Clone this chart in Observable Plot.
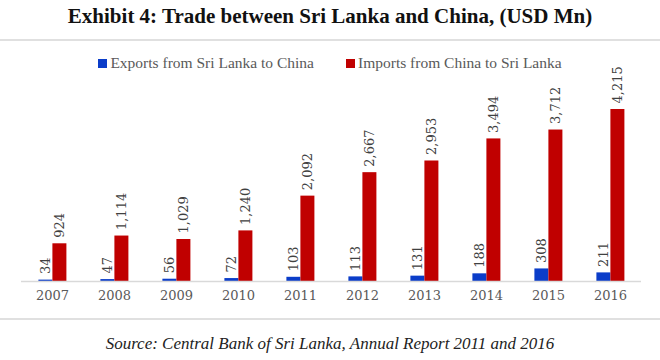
<!DOCTYPE html>
<html>
<head>
<meta charset="utf-8">
<script src="https://cdn.jsdelivr.net/npm/d3@7"></script>
<script src="https://cdn.jsdelivr.net/npm/@observablehq/plot@0.6"></script>
<style>
  body { margin: 0; background: #fff; }
  #wrap { position: relative; width: 660px; height: 360px; font-family: "Liberation Serif", serif; overflow: hidden; }
  #title { position: absolute; top: 4px; left: 0; width: 660px; text-align: center; font-weight: bold; font-size: 21px; color: #111; }
  .hr { position: absolute; left: 0; width: 660px; height: 2px; background: #e0e0e0; }
  #legend { position: absolute; top: 54px; left: 0; width: 660px; text-align: center; font-size: 15.5px; color: #595959; }
  #legend span.item { margin: 0 16px; white-space: nowrap; }
  #legend span.sw { display: inline-block; width: 9px; height: 9px; margin-right: 3px; vertical-align: 0px; }
  #chart { position: absolute; top: 60px; left: 0; }
  #source { position: absolute; top: 334px; left: 0; width: 660px; text-align: center; font-style: italic; font-size: 17px; color: #222; }
</style>
</head>
<body>
<div id="wrap">
  <div id="title">Exhibit 4: Trade between Sri Lanka and China, (USD Mn)</div>
  <div class="hr" style="top:39px"></div>
  <div id="legend"></div>
  <div id="chart"></div>
  <div class="hr" style="top:318px"></div>
  <div id="source">Source: Central Bank of Sri Lanka, Annual Report 2011 and 2016</div>
</div>
<script>
const years = ["2007","2008","2009","2010","2011","2012","2013","2014","2015","2016"];
const seriesNames = ["Exports from Sri Lanka to China", "Imports from China to Sri Lanka"];
const exportsVals = [34, 47, 56, 72, 103, 113, 131, 188, 308, 211];
const importsVals = [924, 1114, 1029, 1240, 2092, 2667, 2953, 3494, 3712, 4215];
const colors = ["#0b3dc9", "#c00000"];

const table = [];
years.forEach((y, i) => {
  table.push({year: y, series: seriesNames[0], value: exportsVals[i]});
  table.push({year: y, series: seriesNames[1], value: importsVals[i]});
});

const legend = document.getElementById("legend");
seriesNames.forEach((s, i) => {
  const it = document.createElement("span");
  it.className = "item";
  it.innerHTML = `<span class="sw" style="background:${colors[i]}"></span>${s}`;
  legend.appendChild(it);
});

const fmt = d3.format(",");
const chart = Plot.plot({
  width: 660,
  height: 250,
  marginTop: 49,
  marginBottom: 29,
  marginLeft: 16.6,
  marginRight: 15.4,
  style: {fontFamily: "DejaVu Serif, serif", fontSize: "13px", color: "#595959", background: "transparent"},
  fx: {domain: years, padding: 0, label: null, axis: "bottom", tickSize: 0, tickPadding: 9},
  x: {domain: seriesNames, paddingInner: 0, paddingOuter: 1.165, axis: null},
  y: {domain: [0, 4215], axis: null},
  color: {domain: seriesNames, range: colors},
  marks: [
    Plot.barY(table, {fx: "year", x: "series", y: "value", fill: "series"}),
    Plot.ruleY([0], {stroke: "#d9d9d9", strokeWidth: 1.5}),
    Plot.text(table, {fx: "year", x: "series", y: "value", text: d => fmt(d.value), rotate: -90, textAnchor: "start", dy: -6, fill: "#404040", fontSize: 13})
  ]
});
document.getElementById("chart").appendChild(chart);
</script>
</body>
</html>
